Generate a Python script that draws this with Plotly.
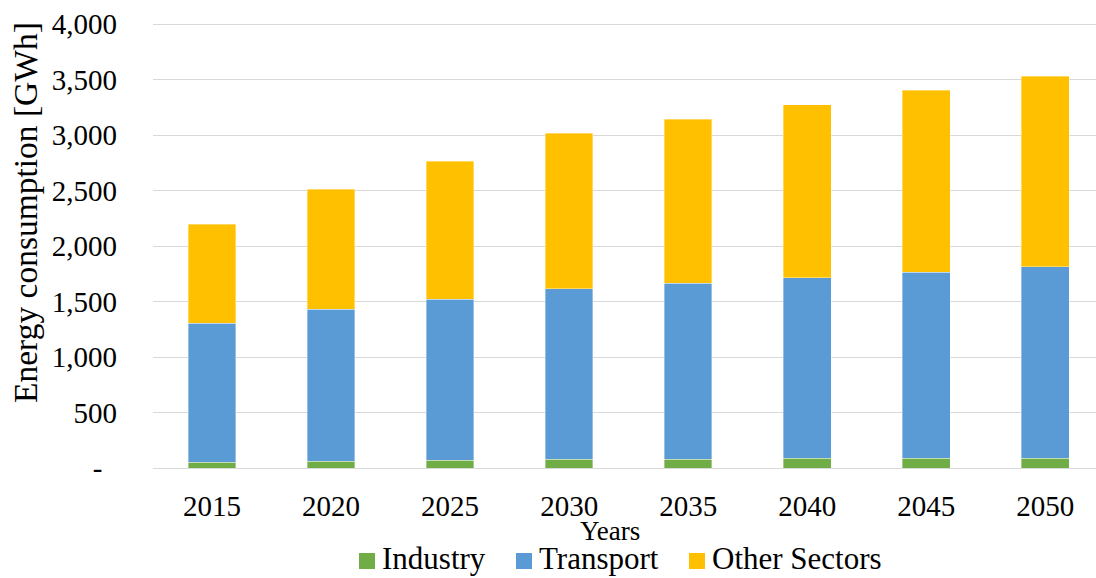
import plotly.graph_objects as go

years = ["2015", "2020", "2025", "2030", "2035", "2040", "2045", "2050"]
industry = [54, 60, 68, 78, 81, 87, 87, 90]
transport = [1252, 1370, 1452, 1537, 1583, 1627, 1679, 1724]
other = [892, 1081, 1243, 1403, 1480, 1562, 1639, 1718]

series_names = ["Industry", "Transport", "Other Sectors"]
series_colors = ["#70AD47", "#5B9BD5", "#FFC000"]

y_tickvals = [0, 500, 1000, 1500, 2000, 2500, 3000, 3500, 4000]
y_ticktext = ["-\u00a0\u00a0", "500", "1,000", "1,500", "2,000", "2,500", "3,000", "3,500", "4,000"]

FONT = "Liberation Serif, Times New Roman, serif"

W, H = 1096, 578
ML, MR, MT, MB = 153, 0, 22, 110
PW, PH = W - ML - MR, H - MT - MB


def px_x(px):
    return (px - ML) / PW


def px_y(py):
    return (H - MB - py) / PH


fig = go.Figure()
for name, vals, color in zip(series_names, [industry, transport, other], series_colors):
    fig.add_trace(go.Bar(x=years, y=vals, name=name, marker_color=color,
                         marker_line_width=0.6, marker_line_color="rgba(255,255,255,0.6)",
                         width=0.4, showlegend=False))

# manual legend (larger square swatches, like the original)
legend_sq_left = [359, 516, 689]
legend_txt_left = [381, 538, 711]
legend_cy = 561
shapes = []
annotations = []
for name, color, sx, tx in zip(series_names, series_colors, legend_sq_left, legend_txt_left):
    shapes.append(dict(type="rect", xref="paper", yref="paper",
                       x0=px_x(sx), x1=px_x(sx + 16), y0=px_y(legend_cy + 8), y1=px_y(legend_cy - 8),
                       fillcolor=color, line=dict(width=0)))
    annotations.append(dict(text=name, xref="paper", yref="paper", x=px_x(tx), y=px_y(577),
                            xanchor="left", yanchor="bottom", showarrow=False, borderpad=0,
                            font=dict(size=31, family=FONT)))

annotations.append(dict(text="Years", xref="paper", yref="paper", x=px_x(610), y=px_y(531),
                        xanchor="center", yanchor="middle", showarrow=False,
                        font=dict(size=27, family=FONT)))
annotations.append(dict(text="Energy consumption [GWh]", xref="paper", yref="paper",
                        x=px_x(25), y=px_y(213), xanchor="center", yanchor="middle", textangle=-90,
                        showarrow=False, font=dict(size=33.5, family=FONT)))

fig.update_layout(
    barmode="stack",
    width=W, height=H,
    margin=dict(l=ML, r=MR, t=MT, b=MB),
    paper_bgcolor="white", plot_bgcolor="white",
    font=dict(family=FONT, size=29, color="black"),
    showlegend=False,
    xaxis=dict(range=[-0.496, 7.426], showgrid=False, showline=True, linecolor="#D9D9D9",
               linewidth=1, ticks="", ticklabelstandoff=12, automargin=False,
               tickfont=dict(size=29, family=FONT)),
    yaxis=dict(range=[0, 4020], tickvals=y_tickvals, ticktext=y_ticktext,
               showgrid=True, gridcolor="#D9D9D9", gridwidth=1, zeroline=False,
               ticks="", ticklabelstandoff=35, automargin=False,
               tickfont=dict(size=29, family=FONT)),
    shapes=shapes,
    annotations=annotations,
)

fig.write_html("out.html", config={"displayModeBar": False},
               post_script="document.body.style.margin='0';document.body.style.padding='0';"
                           "document.body.style.overflow='hidden';")
